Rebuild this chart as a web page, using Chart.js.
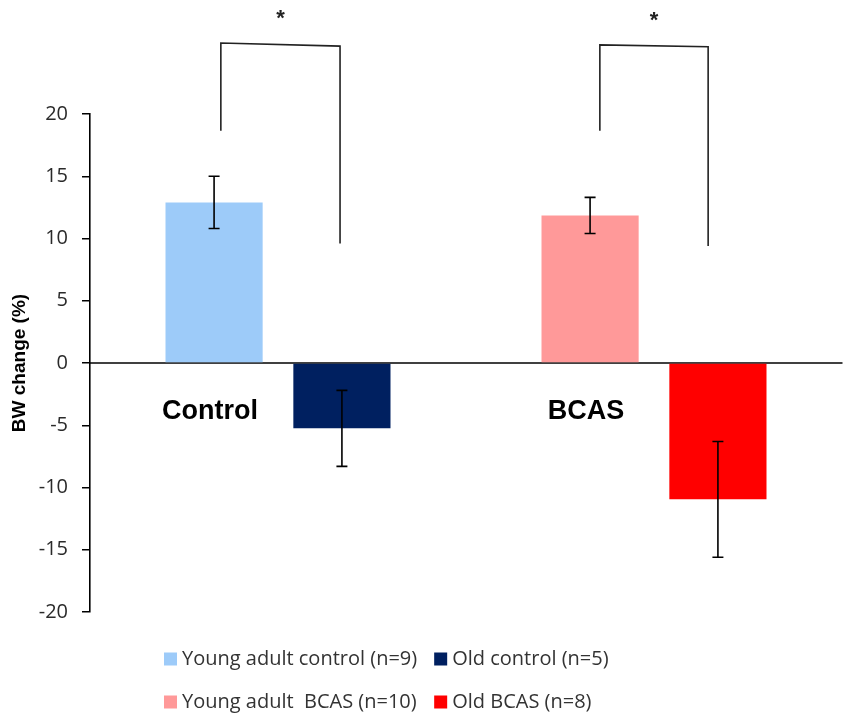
<!DOCTYPE html>
<html>
<head>
<meta charset="utf-8">
<script src="https://cdn.jsdelivr.net/npm/chart.js@4.4.1/dist/chart.umd.min.js"></script>
<style>
  html, body { margin: 0; padding: 0; background: #ffffff; }
  #wrap { width: 850px; height: 719px; position: relative; }
</style>
</head>
<body>
<div id="wrap"><canvas id="c"></canvas></div>
<script>
// ---- data ----
const categories = ['Control', 'BCAS'];
const seriesLabels = ['Young adult control (n=9)', 'Old control (n=5)', 'Young adult  BCAS (n=10)', 'Old BCAS (n=8)'];
const youngControl = [12.9, null];
const oldControl = [-5.25, null];
const youngBCAS = [null, 11.85];
const oldBCAS = [null, -10.95];
const errYoungControl = [2.1, null];
const errOldControl = [3.05, null];
const errYoungBCAS = [null, 1.45];
const errOldBCAS = [null, 4.65];
const yMin = -20, yMax = 20, yStep = 5;
const yTitle = 'BW change (%)';
// significance brackets (category units / value units)
const bracketCategory = [0, 1];
const bracketLeftOffset = [-0.152, -0.144];
const bracketRightOffset = [0.165, 0.144];
const bracketTopLeft = [25.7, 25.55];
const bracketTopRight = [25.45, 25.4];
const bracketBottomLeft = [18.65, 18.65];
const bracketBottomRight = [9.6, 9.4];
const bracketLabels = ['*', '*'];

const colors = ['#9DCBF9', '#002060', '#FF9999', '#FF0000'];
const seriesValues = [youngControl, oldControl, youngBCAS, oldBCAS];
const seriesErrors = [errYoungControl, errOldControl, errYoungBCAS, errOldBCAS];

const errorBarPlugin = {
  id: 'errorBars',
  afterDatasetsDraw(chart) {
    const ctx = chart.ctx;
    const y = chart.scales.y;
    ctx.save();
    ctx.strokeStyle = '#000000';
    ctx.lineWidth = 1.6;
    chart.data.datasets.forEach((ds, i) => {
      const meta = chart.getDatasetMeta(i);
      meta.data.forEach((el, j) => {
        const v = ds.data[j];
        const e = seriesErrors[i][j];
        if (v == null || e == null) return;
        const x = el.x;
        const yt = y.getPixelForValue(v + e);
        const yb = y.getPixelForValue(v - e);
        const cap = 5.5;
        ctx.beginPath();
        ctx.moveTo(x, yt); ctx.lineTo(x, yb);
        ctx.moveTo(x - cap, yt); ctx.lineTo(x + cap, yt);
        ctx.moveTo(x - cap, yb); ctx.lineTo(x + cap, yb);
        ctx.stroke();
      });
    });
    ctx.restore();
  }
};

const bracketPlugin = {
  id: 'brackets',
  afterDraw(chart) {
    const ctx = chart.ctx;
    const xs = chart.scales.x, ys = chart.scales.y;
    ctx.save();
    ctx.strokeStyle = '#222222';
    ctx.lineWidth = 1.6;
    bracketCategory.forEach((c, k) => {
      const xl = xs.getPixelForValue(c + bracketLeftOffset[k]);
      const xr = xs.getPixelForValue(c + bracketRightOffset[k]);
      const ytl = ys.getPixelForValue(bracketTopLeft[k]);
      const ytr = ys.getPixelForValue(bracketTopRight[k]);
      const ybl = ys.getPixelForValue(bracketBottomLeft[k]);
      const ybr = ys.getPixelForValue(bracketBottomRight[k]);
      ctx.beginPath();
      ctx.moveTo(xl, ybl);
      ctx.lineTo(xl, ytl);
      ctx.lineTo(xr, ytr);
      ctx.lineTo(xr, ybr);
      ctx.stroke();
      ctx.fillStyle = '#222222';
      ctx.font = 'bold 22px "Liberation Sans", Arial, sans-serif';
      ctx.textAlign = 'center';
      ctx.textBaseline = 'middle';
      ctx.fillText(bracketLabels[k], (xl + xr) / 2, ytl - 24);
    });
    ctx.restore();
  }
};

const legendPlugin = {
  id: 'customLegend',
  afterDraw(chart) {
    const ctx = chart.ctx;
    ctx.save();
    ctx.font = '20px "Open Sans", "Noto Sans", sans-serif';
    ctx.textBaseline = 'middle';
    ctx.textAlign = 'left';
    const box = 13;
    const startX = 164;
    const rowY = [659, 702];
    const textGap = 18;
    const col1W = Math.max(ctx.measureText(seriesLabels[0]).width, ctx.measureText(seriesLabels[2]).width);
    const col2X = startX + textGap + col1W + 17;
    const order = [[0, 1], [2, 3]];
    order.forEach((row, r) => {
      row.forEach((si, c) => {
        const x = c === 0 ? startX : col2X;
        ctx.fillStyle = colors[si];
        ctx.fillRect(x, rowY[r] - box / 2, box, box);
        ctx.fillStyle = '#333333';
        ctx.fillText(seriesLabels[si], x + textGap, rowY[r]);
      });
    });
    ctx.restore();
  }
};

const yTickValues = [];
for (let v = yMin; v <= yMax; v += yStep) yTickValues.push(v);

new Chart(document.getElementById('c'), {
  type: 'bar',
  data: {
    labels: categories,
    datasets: seriesValues.map((vals, i) => ({
      label: seriesLabels[i],
      data: vals,
      backgroundColor: colors[i],
      borderWidth: 0,
      categoryPercentage: 0.68,
      barPercentage: 0.76
    }))
  },
  options: {
    responsive: true,
    maintainAspectRatio: false,
    animation: false,
    skipNull: true,
    layout: { padding: { top: 114, bottom: 107, right: 8, left: 0 } },
    plugins: {
      legend: { display: false },
      tooltip: { enabled: false }
    },
    scales: {
      x: {
        position: { y: 0 },
        offset: true,
        grid: {
          offset: true,
          drawOnChartArea: false,
          drawTicks: true,
          tickLength: 5,
          lineWidth: 1.5,
          color: (ctx) => ctx.index === categories.length ? '#404040' : 'rgba(0,0,0,0)'
        },
        border: { display: true, color: '#404040', width: 2 },
        ticks: {
          color: '#000000',
          font: { family: '"Liberation Sans", Arial, sans-serif', size: 27, weight: 'bold' },
          padding: 27,
          labelOffset: -68,
          maxRotation: 0
        }
      },
      y: {
        min: yMin,
        max: yMax,
        afterFit(scale) { scale.width = 90; },
        afterBuildTicks(scale) { scale.ticks = yTickValues.map(v => ({ value: v })); },
        grid: {
          drawOnChartArea: false,
          drawTicks: true,
          tickLength: 8,
          color: '#000000',
          lineWidth: 1.5
        },
        border: { display: true, color: '#000000', width: 1.6 },
        ticks: {
          color: '#2a2a2a',
          font: { family: '"Open Sans", "Noto Sans", sans-serif', size: 20 },
          padding: 14
        },
        title: {
          display: true,
          text: yTitle,
          color: '#000000',
          font: { family: '"Liberation Sans", Arial, sans-serif', size: 19, weight: 'bold' },
          padding: { top: 8, bottom: 0 }
        }
      }
    }
  },
  plugins: [errorBarPlugin, bracketPlugin, legendPlugin]
});
</script>
</body>
</html>
